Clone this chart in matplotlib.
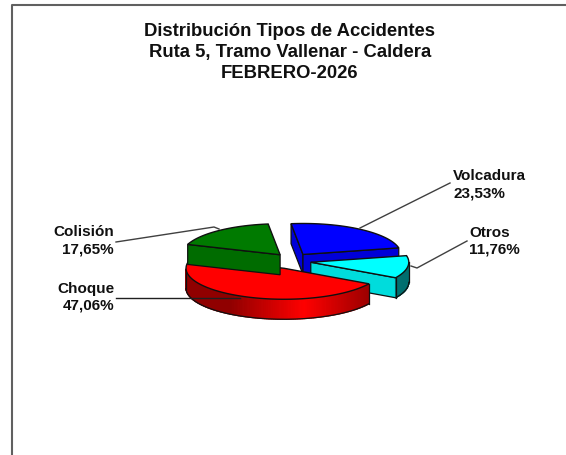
import numpy as np
import matplotlib
matplotlib.use('Agg')
from matplotlib import pyplot as plt
from matplotlib.patches import Polygon

plt.rcParams['font.family'] = ['Liberation Sans', 'DejaVu Sans']

titulo = ['Distribución Tipos de Accidentes', 'Ruta 5, Tramo Vallenar - Caldera', 'FEBRERO-2026']
nombres = ['Volcadura', 'Otros', 'Choque', 'Colisión']
valores = [23.53, 11.76, 47.06, 17.65]
etiquetas = ['23,53%', '11,76%', '47,06%', '17,65%']

tapa = ['#0000ff', '#00ffff', '#ff0000', '#007a00']
pared = ['#0000d8', '#00dcdc', '#b00000', '#006c00']
# colores del borde curvo: oscuro - claro
curva = [('#000090', '#0000d0'), ('#006e6e', '#00a8a8'), ('#900000', '#ff0000'), ('#005000', '#007000')]

cx, cy = 292, 261
rx, ry = 98, 31
alto = 20
sep_x, sep_y = 19, 8
ang0 = 97


def pt(x0, y0, a, r=1.0):
    return x0 + r * rx * np.cos(np.radians(a)), y0 - r * ry * np.sin(np.radians(a))


def mezcla(c1, c2, t):
    a = np.array(matplotlib.colors.to_rgb(c1))
    b = np.array(matplotlib.colors.to_rgb(c2))
    return a + (b - a) * t


def dr_slice(ax, i, a1, a2):
    # a1 > a2, sentido horario
    mid = np.radians((a1 + a2) / 2)
    x0 = cx + sep_x * np.cos(mid)
    y0 = cy - sep_y * np.sin(mid)
    ed = '#101010'
    # paredes rectas, solo las que miran al frente
    for a, visible in ((a1, np.cos(np.radians(a1)) < 0), (a2, np.cos(np.radians(a2)) > 0)):
        if not visible:
            continue
        x1, y1 = pt(x0, y0, a)
        ax.add_patch(Polygon([(x0, y0), (x1, y1), (x1, y1 + alto), (x0, y0 + alto)],
                             fc=pared[i], ec=ed, lw=0.9, zorder=10 + i * 5))
    # borde curvo, solo la parte de adelante
    aa = np.linspace(a2, a1, 160)
    aa = aa[np.sin(np.radians(aa)) <= 0.0]
    if len(aa) > 1:
        c1, c2 = curva[i]
        for k in range(len(aa) - 1):
            x1, y1 = pt(x0, y0, aa[k])
            x2, y2 = pt(x0, y0, aa[k + 1])
            t = 1 - abs((x1 - x0) / rx - 0.2) / 0.75
            col = mezcla(c1, c2, np.clip(t, 0, 1))
            ax.add_patch(Polygon([(x1, y1), (x2, y2), (x2, y2 + alto), (x1, y1 + alto)],
                                 fc=col, ec=col, lw=0.9, zorder=11 + i * 5))
        xs, ys = pt(x0, y0, aa)
        ax.plot(xs, ys + alto, color=ed, lw=0.9, zorder=12 + i * 5)
        for a in (aa[0], aa[-1]):
            x1, y1 = pt(x0, y0, a)
            ax.plot([x1, x1], [y1, y1 + alto], color=ed, lw=0.9, zorder=12 + i * 5)
    # tapa
    aa = np.linspace(a1, a2, 120)
    xs, ys = pt(x0, y0, aa)
    ax.add_patch(Polygon(np.r_[[[x0, y0]], np.c_[xs, ys]], fc=tapa[i], ec=ed, lw=1.0,
                         zorder=13 + i * 5))


fig = plt.figure(figsize=(5.66, 4.55), dpi=100)
ax = fig.add_axes([0, 0, 1, 1])
ax.set_xlim(0, 566)
ax.set_ylim(455, 0)
ax.axis('off')

# marco
ax.plot([11.5, 11.5, 566], [455, 4.5, 4.5], color='#606060', lw=1.5, zorder=1)

for k, s in enumerate(titulo):
    ax.text(290, 31 + 21.5 * k, s, ha='center', va='center', fontsize=13.3, fontweight='bold', color='#101010')

# rebanadas, de atras hacia adelante
lim = ang0 - np.cumsum([0] + valores) * 3.6
orden = [3, 0, 1, 2]
for i in orden:
    dr_slice(ax, i, lim[i], lim[i + 1])

# lineas guia
gris = '#404040'
ax.plot([360, 450], [228, 183], color=gris, lw=1, zorder=40)
ax.plot([411, 417, 467], [266, 268, 241], color=gris, lw=1, zorder=40)
ax.plot([116, 214, 219], [242, 227, 229], color=gris, lw=1, zorder=5)
ax.plot([116, 240], [298, 298], color='#202020', lw=1, zorder=40)

# etiquetas
fs = 11
ax.text(453, 176, nombres[0], ha='left', va='center', fontsize=fs, fontweight='bold', color='#101010')
ax.text(453, 194, etiquetas[0], ha='left', va='center', fontsize=fs, fontweight='bold', color='#101010')
ax.text(469, 233, nombres[1], ha='left', va='center', fontsize=fs, fontweight='bold', color='#101010')
ax.text(469, 250, etiquetas[1], ha='left', va='center', fontsize=fs, fontweight='bold', color='#101010')
ax.text(114, 289, nombres[2], ha='right', va='center', fontsize=fs, fontweight='bold', color='#101010')
ax.text(114, 306, etiquetas[2], ha='right', va='center', fontsize=fs, fontweight='bold', color='#101010')
ax.text(114, 232, nombres[3], ha='right', va='center', fontsize=fs, fontweight='bold', color='#101010')
ax.text(114, 249, etiquetas[3], ha='right', va='center', fontsize=fs, fontweight='bold', color='#101010')

plt.savefig('out.png', dpi=100)
print('ok')
